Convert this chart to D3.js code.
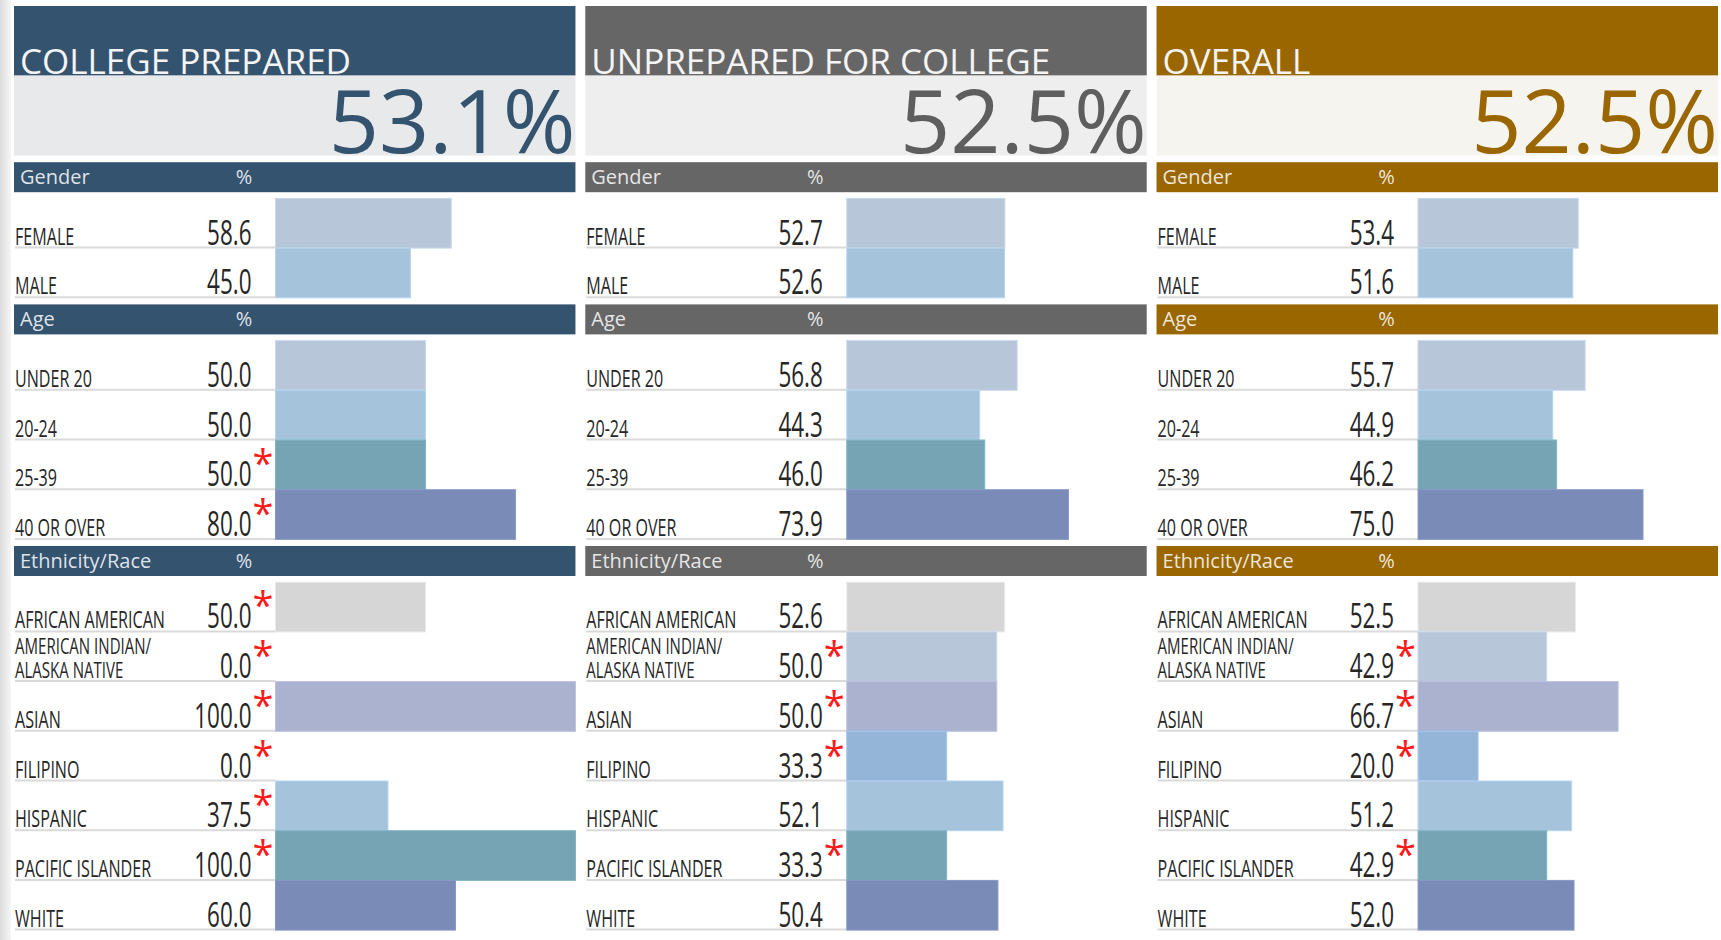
<!DOCTYPE html>
<html>
<head>
<meta charset="utf-8">
<script src="https://cdn.jsdelivr.net/npm/d3@7"></script>
<style>
  html, body { margin: 0; padding: 0; background: #fff; overflow: hidden; }
  svg { display: block; font-family: "Open Sans", sans-serif; }
</style>
</head>
<body>
<div id="chart"></div>
<script>
const width = 1721;
const height = 940;

//  ----- data ----------------------------- //
const panelTitles = ["COLLEGE PREPARED", "UNPREPARED FOR COLLEGE", "OVERALL"];
const overallRates = [53.1, 52.5, 52.5];

const genderCategories = ["FEMALE", "MALE"];
const ageCategories = ["UNDER 20", "20-24", "25-39", "40 OR OVER"];
const ethnicityCategories = [
  "AFRICAN AMERICAN",
  "AMERICAN INDIAN/|ALASKA NATIVE",
  "ASIAN",
  "FILIPINO",
  "HISPANIC",
  "PACIFIC ISLANDER",
  "WHITE",
];

// one row per panel (prepared, unprepared, overall)
const genderValues = [
  [58.6, 45.0],
  [52.7, 52.6],
  [53.4, 51.6],
];
const ageValues = [
  [50.0, 50.0, 50.0, 80.0],
  [56.8, 44.3, 46.0, 73.9],
  [55.7, 44.9, 46.2, 75.0],
];
const ethnicityValues = [
  [50.0, 0.0, 100.0, 0.0, 37.5, 100.0, 60.0],
  [52.6, 50.0, 50.0, 33.3, 52.1, 33.3, 50.4],
  [52.5, 42.9, 66.7, 20.0, 51.2, 42.9, 52.0],
];

// red asterisk = small group
const genderFlags = [
  [0, 0],
  [0, 0],
  [0, 0],
];
const ageFlags = [
  [0, 0, 1, 1],
  [0, 0, 0, 0],
  [0, 0, 0, 0],
];
const ethnicityFlags = [
  [1, 1, 1, 1, 1, 1, 0],
  [0, 1, 1, 1, 0, 1, 0],
  [0, 1, 1, 1, 0, 1, 0],
];

//  ----- styles ------ //
const headColors = ["#34536f", "#666666", "#996600"];
const boxColors = ["#e8e9eb", "#eeeeee", "#f5f4ef"];
const bigTextColors = ["#34536f", "#5e5e5e", "#996600"];
const genderColors = ["#b8c6d9", "#a6c3dc"];
const ageColors = ["#b8c6d9", "#a6c3dc", "#76a4b5", "#7b8bb8"];
const ethnicityColors = ["#d6d6d6", "#b8c6d9", "#abb2cf", "#94b4d8", "#a6c3dc", "#76a4b5", "#7b8bb8"];

const sections = [
  { name: "Gender", cats: genderCategories, values: genderValues, flags: genderFlags, colors: genderColors },
  { name: "Age", cats: ageCategories, values: ageValues, flags: ageFlags, colors: ageColors },
  { name: "Ethnicity/Race", cats: ethnicityCategories, values: ethnicityValues, flags: ethnicityFlags, colors: ethnicityColors },
];

// vertical layout
const headH = 30;
const rowH = 49.7;
let yPos = 155.6;
sections.forEach(s => {
  s.headY = yPos + 6.6;
  const top = s.headY + headH + 6.2;
  s.y = d3.scaleBand().domain(s.cats).range([top, top + s.cats.length * rowH]);
  yPos = top + s.cats.length * rowH;
});

// panels side by side
const panelX = d3.scaleBand().domain(d3.range(3)).range([14, 1718]).paddingInner(0.0172);
const panelW = panelX.bandwidth();
const barOffset = 261.5;
const xScale = d3.scaleLinear().domain([0, 100]).range([0, panelW - barOffset]);

const svg = d3.select("#chart").append("svg")
  .attr("width", width)
  .attr("height", height);

// faint grey edge on the left
const grad = svg.append("defs").append("linearGradient").attr("id", "edge");
grad.append("stop").attr("offset", 0).attr("stop-color", "#dcdcdc");
grad.append("stop").attr("offset", 1).attr("stop-color", "#f6f6f6");
svg.append("rect").attr("x", 0).attr("y", 0).attr("width", 11).attr("height", height).attr("fill", "url(#edge)");

d3.range(3).forEach(p => {
  const px = panelX(p);
  const g = svg.append("g");

  // title band
  g.append("rect").attr("x", px).attr("y", 6).attr("width", panelW).attr("height", 69.6).attr("fill", headColors[p]);
  g.append("text").attr("x", px + 6).attr("y", 74)
    .attr("font-size", 35).attr("fill", "#f4f4f4")
    .text(panelTitles[p]);

  // big number box
  g.append("rect").attr("x", px).attr("y", 75.6).attr("width", panelW).attr("height", 80).attr("fill", boxColors[p]);
  g.append("text").attr("x", px + panelW).attr("y", 152.5)
    .attr("text-anchor", "end").attr("font-size", 88).attr("fill", bigTextColors[p])
    .text(overallRates[p].toFixed(1) + "%");

  sections.forEach(s => {
    // section header
    g.append("rect").attr("x", px).attr("y", s.headY).attr("width", panelW).attr("height", headH).attr("fill", headColors[p]);
    g.append("text").attr("x", px + 6).attr("y", s.headY + 21.5)
      .attr("font-size", 20).attr("fill", "#fff").attr("fill-opacity", 0.85)
      .text(s.name);
    g.append("text").attr("x", px + 230).attr("y", s.headY + 21.5)
      .attr("text-anchor", "middle").attr("font-size", 20).attr("fill", "#fff").attr("fill-opacity", 0.85)
      .text("%");

    const rows = s.cats.map((c, i) => ({ cat: c, value: s.values[p][i], flag: s.flags[p][i], color: s.colors[i] }));

    // separator lines under each label
    g.selectAll(null).data(rows).enter().append("line")
      .attr("x1", px + 1).attr("x2", px + barOffset)
      .attr("y1", d => s.y(d.cat) + s.y.bandwidth() - 0.5)
      .attr("y2", d => s.y(d.cat) + s.y.bandwidth() - 0.5)
      .attr("stroke", "#dadada").attr("stroke-width", 2);

    // bars
    g.selectAll(null).data(rows).enter().append("rect")
      .attr("x", px + barOffset)
      .attr("y", d => s.y(d.cat))
      .attr("width", d => xScale(d.value))
      .attr("height", s.y.bandwidth())
      .attr("fill", d => d.color)
      .attr("stroke", d => d3.color(d.color).brighter(0.25))
      .attr("stroke-width", 1);

    // category labels (narrow), long ones split over two lines
    rows.forEach(d => {
      const parts = d.cat.split("|");
      const base = s.y(d.cat) + s.y.bandwidth() - 3.5;
      parts.forEach((line, k) => {
        const ly = base + (k - parts.length + 1) * 24;
        g.append("text")
          .attr("transform", `translate(${px + 1},${ly}) scale(0.7,1)`)
          .attr("font-size", parts.length > 1 ? 21.5 : 23)
          .attr("fill", "#262626")
          .text(line);
      });
    });

    // values
    g.selectAll(null).data(rows).enter().append("text")
      .attr("transform", d => `translate(${px + 237.5},${s.y(d.cat) + s.y.bandwidth() - 3.5}) scale(0.66,1)`)
      .attr("text-anchor", "end").attr("font-size", 34).attr("fill", "#262626")
      .text(d => d.value.toFixed(1));

    // asterisks, raised like a superscript
    g.selectAll(null).data(rows.filter(d => d.flag)).enter().append("text")
      .attr("x", px + 238.5)
      .attr("y", d => s.y(d.cat) + s.y.bandwidth() - 12.5)
      .attr("font-size", 38).attr("fill", "#ff1a1a")
      .text("*");
  });
});
</script>
</body>
</html>
